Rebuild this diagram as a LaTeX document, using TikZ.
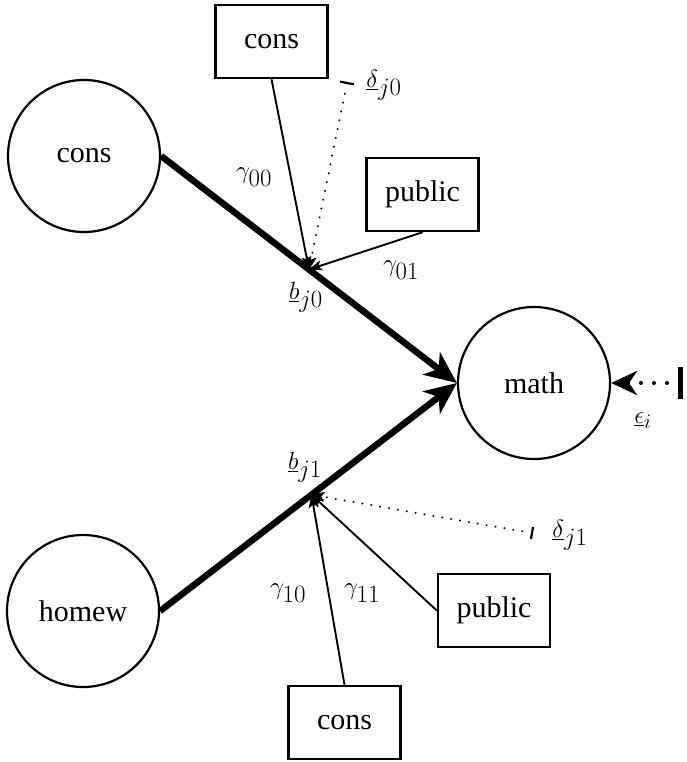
\documentclass[tikz,border=0pt]{standalone}
\usepackage{fontspec}
\setmainfont{Liberation Serif}
\usetikzlibrary{arrows.meta,calc}
\begin{document}
\begin{tikzpicture}[x=1pt,y=-1pt,
  every node/.style={font=\fontsize{30}{34}\selectfont},
  var/.style={circle,draw,line width=2.2pt,minimum size=152pt,inner sep=0pt},
  box/.style={rectangle,draw,line width=2.5pt,minimum width=112pt,minimum height=73pt,inner sep=0pt},
  lab/.style={inner sep=0pt,font=\fontsize{35}{38}\selectfont},
  main/.style={line width=6.5pt,-{Stealth[length=32pt,width=28pt,inset=9pt]}},
  thin/.style={line width=1.9pt,-{Stealth[length=13pt,width=10pt,inset=3pt]}},
  dots/.style={line width=2.2pt,dash pattern=on 0.01pt off 9pt,line cap=round,-{Stealth[length=13pt,width=10pt,inset=3pt]}},
  tick/.style={line width=2.2pt}]
\useasboundingbox (0,0) rectangle (686,762);
% variables
\node[var] (c1) at (84,156) {cons};
\node[var] (hw) at (83,611) {homew};
\node[var] (m) at (534,383) {math};
% boxes
\node[box] (tc) at (271.5,41.5) {cons};
\node[box] (tp) at (422.5,194.5) {public};
\node[box] (bp) at (494,610.5) {public};
\node[box] (bc) at (344.5,722.5) {cons};
% main paths
\draw[main] (c1.east) -- (m.west);
\draw[main] (hw.east) -- (m.west);
\coordinate (j0) at ($(c1.east)!0.5!(m.west)$);
\coordinate (j1) at ($(hw.east)!0.51!(m.west)$);
% top cross-level
\draw[thin] (tc.south) -- (j0);
\draw[thin] (tp.south) -- (j0);
\coordinate (d0) at (347,83);
\draw[dots,shorten <=11pt] (d0) -- (j0);
\draw[tick] ($(d0)!7pt!90:(j0)$) -- ($(d0)!7pt!-90:(j0)$);
% bottom cross-level
\draw[thin] (bc.north) -- (j1);
\draw[thin] (bp.west) -- (j1);
\coordinate (d1) at (532,533);
\draw[dots,shorten <=10pt] (d1) -- (j1);
\draw[tick] ($(d1)!6pt!90:(j1)$) -- ($(d1)!6pt!-90:(j1)$);
% epsilon
\coordinate (e0) at (680,383);
\draw[line width=4pt,dash pattern=on 0.01pt off 13pt,line cap=round,shorten <=13pt,-{Stealth[length=26pt,width=24pt,inset=8pt]}] (e0) -- (m.east);
\draw[line width=5pt] (680,367) -- (680,399);
% labels
\node[lab] (g00) at (254,177) {$\gamma_{00}$};
\node[lab] (g01) at (401,270) {$\gamma_{01}$};
\node[lab] (b0) at (306,297) {$\underline{b}_{j0}$};
\node[lab] (dl0) at (384,85) {$\underline{\delta}_{j0}$};
\node[lab] (b1) at (305,467) {$\underline{b}_{j1}$};
\node[lab] (g10) at (288,593) {$\gamma_{10}$};
\node[lab] (g11) at (362,593) {$\gamma_{11}$};
\node[lab] (dl1) at (570,535) {$\underline{\delta}_{j1}$};
\node[lab,font=\fontsize{29}{32}\selectfont] (ep) at (643,421) {$\underline{\epsilon}_{i}$};
\end{tikzpicture}
\end{document}
